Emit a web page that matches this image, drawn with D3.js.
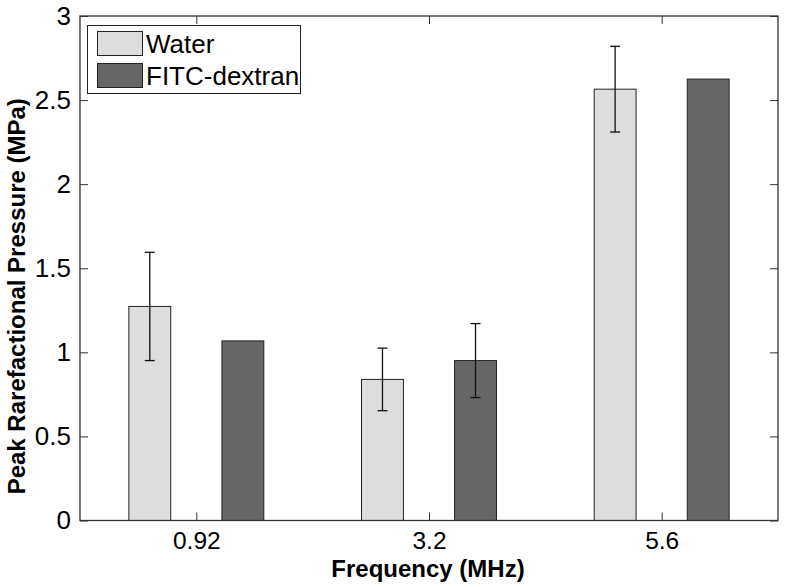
<!DOCTYPE html>
<html><head><meta charset="utf-8">
<script src="https://cdn.jsdelivr.net/npm/d3@7"></script>
<style>body{margin:0;background:#fff}svg{display:block}text{font-family:"Liberation Sans",Arial,sans-serif}</style>
</head><body>
<svg id="c" width="786" height="587"></svg>
<script>
const categories = ["0.92", "3.2", "5.6"];
const seriesNames = ["Water", "FITC-dextran"];
const water = [1.273, 0.839, 2.565];
const waterErr = [0.322, 0.186, 0.255];
const fitc = [1.068, 0.951, 2.625];
const fitcErr = [null, 0.22, null];
const yTicks = [0, 0.5, 1, 1.5, 2, 2.5, 3];

const svg = d3.select("#c");
const L = 80, R = 778, T = 16, B = 520.5;
const x = d3.scaleLinear().domain([0.5, 3.5]).range([L, R]);
const y = d3.scaleLinear().domain([0, 3]).range([B, T]);
const bw = x(0.18) - x(0);
const off = 0.2;
const colors = ["#dddddd", "#666666"];

const series = [
  {vals: water, errs: waterErr, dx: -off, color: colors[0]},
  {vals: fitc, errs: fitcErr, dx: off, color: colors[1]}
];

series.forEach(s => {
  svg.append("g").selectAll("rect").data(s.vals).join("rect")
    .attr("x", (d, i) => x(i + 1 + s.dx) - bw / 2)
    .attr("y", d => y(d))
    .attr("width", bw)
    .attr("height", d => y(0) - y(d))
    .attr("fill", s.color).attr("stroke", "#222").attr("stroke-width", 1);
});
series.forEach(s => {
  const g = svg.append("g").attr("stroke", "#111").attr("stroke-width", 1.3);
  s.vals.forEach((v, i) => {
    const e = s.errs[i];
    if (e == null) return;
    const cx = x(i + 1 + s.dx);
    g.append("line").attr("x1", cx).attr("x2", cx).attr("y1", y(v - e)).attr("y2", y(v + e));
    g.append("line").attr("x1", cx - 5).attr("x2", cx + 5).attr("y1", y(v - e)).attr("y2", y(v - e));
    g.append("line").attr("x1", cx - 5).attr("x2", cx + 5).attr("y1", y(v + e)).attr("y2", y(v + e));
  });
});

const tickLen = 8;
const yAxisL = d3.axisLeft(y).tickValues(yTicks).tickSize(-tickLen).tickPadding(9).tickFormat(d3.format("~g"));
const yAxisR = d3.axisRight(y).tickValues(yTicks).tickSize(-tickLen).tickFormat("");
const xAxisB = d3.axisBottom(x).tickValues([1, 2, 3]).tickSize(-tickLen).tickPadding(11).tickFormat((d) => categories[d - 1]);
const xAxisT = d3.axisTop(x).tickValues([1, 2, 3]).tickSize(-tickLen).tickFormat("");

function style(fs) {
  return g => {
    g.select(".domain").remove();
    g.selectAll("line").attr("stroke", "#333");
    g.selectAll("text").attr("font-size", fs).attr("fill", "#000")
     .attr("font-family", '"Liberation Sans",Arial,sans-serif');
  };
}
svg.append("g").attr("transform", `translate(${L},0)`).call(yAxisL).call(style(26));
svg.append("g").attr("transform", `translate(${R},0)`).call(yAxisR).call(style(26));
svg.append("g").attr("transform", `translate(0,${B})`).call(xAxisB).call(style(24.5));
svg.append("g").attr("transform", `translate(0,${T})`).call(xAxisT).call(style(24.5));

svg.append("rect").attr("x", L).attr("y", T).attr("width", R - L).attr("height", B - T)
  .attr("fill", "none").attr("stroke", "#333").attr("stroke-width", 1.3);

svg.append("text").attr("x", (L + R) / 2 - 1).attr("y", 577).attr("text-anchor", "middle")
  .attr("font-size", 24).attr("font-weight", "bold").text("Frequency (MHz)");
svg.append("text").attr("transform", `translate(25,${(T + B) / 2 + 28}) rotate(-90)`)
  .attr("text-anchor", "middle").attr("font-size", 24).attr("font-weight", "bold")
  .text("Peak Rarefactional Pressure (MPa)");

const lg = svg.append("g");
lg.append("rect").attr("x", 87.5).attr("y", 25.5).attr("width", 213).attr("height", 68)
  .attr("fill", "#fff").attr("stroke", "#222").attr("stroke-width", 1);
seriesNames.forEach((n, i) => {
  lg.append("rect").attr("x", 97.5).attr("y", 31.5 + i * 32).attr("width", 45).attr("height", 24)
    .attr("fill", colors[i]).attr("stroke", "#222");
  lg.append("text").attr("x", 146).attr("y", 53 + i * 32).attr("font-size", 26).text(n);
});
</script>
</body></html>
